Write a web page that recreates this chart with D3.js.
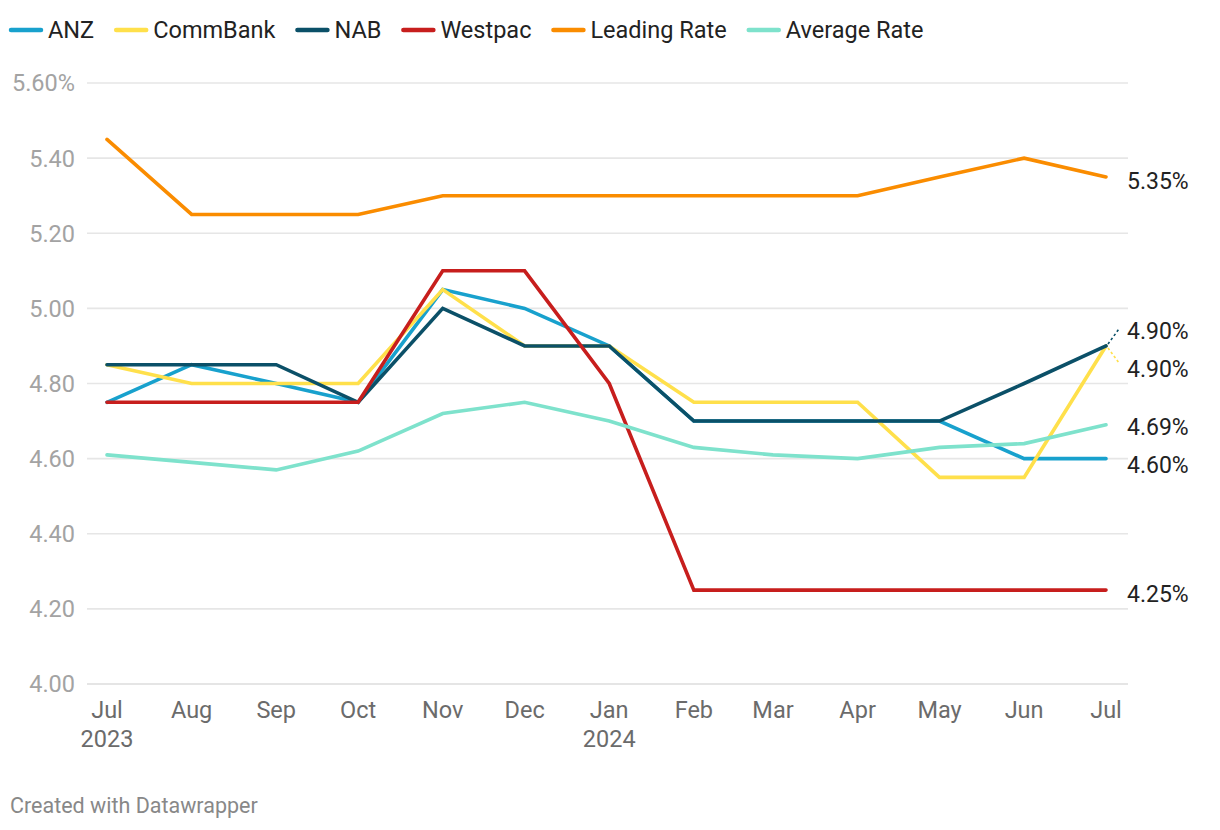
<!DOCTYPE html>
<html>
<head>
<meta charset="utf-8">
<script src="https://cdn.jsdelivr.net/npm/d3@7"></script>
<style>
  html, body { margin: 0; padding: 0; background: #fff; }
  svg { display: block; font-family: Roboto, "Noto Sans", sans-serif; }
</style>
</head>
<body>
<svg id="chart" width="1220" height="830"></svg>
<script>
// ---- Data ----
const months = ["2023-07","2023-08","2023-09","2023-10","2023-11","2023-12","2024-01","2024-02","2024-03","2024-04","2024-05","2024-06","2024-07"];
const seriesNames = ["ANZ","CommBank","NAB","Westpac","Leading Rate","Average Rate"];
const anz      = [4.75,4.85,4.80,4.75,5.05,5.00,4.90,4.70,4.70,4.70,4.70,4.60,4.60];
const commbank = [4.85,4.80,4.80,4.80,5.05,4.90,4.90,4.75,4.75,4.75,4.55,4.55,4.90];
const nab      = [4.85,4.85,4.85,4.75,5.00,4.90,4.90,4.70,4.70,4.70,4.70,4.80,4.90];
const westpac  = [4.75,4.75,4.75,4.75,5.10,5.10,4.80,4.25,4.25,4.25,4.25,4.25,4.25];
const leading  = [5.45,5.25,5.25,5.25,5.30,5.30,5.30,5.30,5.30,5.30,5.35,5.40,5.35];
const average  = [4.61,4.59,4.57,4.62,4.72,4.75,4.70,4.63,4.61,4.60,4.63,4.64,4.69];
const yTicks = [4.00,4.20,4.40,4.60,4.80,5.00,5.20,5.40,5.60];
const colors = ["#18a1cd","#ffe04b","#0b5068","#c71e1d","#fa8c00","#7ee2cc"];

const values = [anz, commbank, nab, westpac, leading, average];
const parse = d3.timeParse("%Y-%m");
const dates = months.map(parse);

// ---- Layout ----
const svg = d3.select("#chart");
const x = d3.scaleTime().domain([dates[0], dates[dates.length-1]]).range([107, 1106]);
const y = d3.scaleLinear().domain([4.0, 5.6]).range([684, 83]);
const gridX0 = 87, gridX1 = 1128;
const fontSize = 23.5;

// Grid + y labels
const gy = svg.append("g");
gy.selectAll("line").data(yTicks).join("line")
  .attr("x1", gridX0).attr("x2", gridX1)
  .attr("y1", d => y(d)).attr("y2", d => y(d))
  .attr("stroke", d => d === 4.0 ? "#dcdcdc" : "#e6e6e6")
  .attr("stroke-width", 1.6);
gy.selectAll("text").data(yTicks).join("text")
  .attr("x", 75).attr("y", d => y(d))
  .attr("dy", "0.36em")
  .attr("text-anchor", "end")
  .attr("fill", "#a3a3a3")
  .attr("font-size", fontSize)
  .text(d => d3.format(".2f")(d) + (d === 5.6 ? "%" : ""));

// X axis labels
const gx = svg.append("g");
const mFmt = d3.timeFormat("%b");
gx.selectAll("text.m").data(dates).join("text")
  .attr("class", "m")
  .attr("x", d => x(d)).attr("y", 718)
  .attr("text-anchor", "middle")
  .attr("fill", "#6b6b6b")
  .attr("font-size", fontSize)
  .text(d => mFmt(d));
gx.selectAll("text.yr").data(dates.filter((d, i) => i === 0 || d.getMonth() === 0)).join("text")
  .attr("class", "yr")
  .attr("x", d => x(d)).attr("y", 747)
  .attr("text-anchor", "middle")
  .attr("fill", "#6b6b6b")
  .attr("font-size", fontSize)
  .text(d => d3.timeFormat("%Y")(d));

// Lines
const line = d3.line().x((d, i) => x(dates[i])).y(d => y(d));
const gl = svg.append("g");
values.forEach((vals, si) => {
  gl.append("path")
    .attr("d", line(vals))
    .attr("fill", "none")
    .attr("stroke", colors[si])
    .attr("stroke-width", 3.6)
    .attr("stroke-linejoin", "miter")
    .attr("stroke-linecap", "round");
});

// End labels with simple collision avoidance
const last = dates.length - 1;
const xEnd = x(dates[last]);
let labels = values.map((vals, si) => ({ si, v: vals[last], y0: y(vals[last]) + 4 }));
labels.forEach(d => d.y = d.y0);
labels.sort((a, b) => a.y0 - b.y0 || b.si - a.si);
const minGap = 38;
for (let iter = 0; iter < 200; iter++) {
  let moved = false;
  for (let i = 0; i < labels.length - 1; i++) {
    const a = labels[i], b = labels[i+1];
    const gap = b.y - a.y;
    if (gap < minGap - 0.01) {
      const shift = (minGap - gap) / 2;
      a.y -= shift; b.y += shift; moved = true;
    }
  }
  if (!moved) break;
}
const glab = svg.append("g");
labels.forEach(d => {
  const ey = y(d.v);
  if (Math.abs(d.y - d.y0) > 8) {
    const dir = Math.sign(d.y - d.y0);
    glab.append("line")
      .attr("x1", xEnd + 2).attr("y1", ey + dir * 2)
      .attr("x2", xEnd + 13).attr("y2", ey + dir * 17)
      .attr("stroke", colors[d.si])
      .attr("stroke-width", 1.6)
      .attr("stroke-dasharray", "2.5,2.5");
  }
  glab.append("text")
    .attr("x", 1127).attr("y", d.y)
    .attr("dy", "0.36em")
    .attr("fill", "#222")
    .attr("font-size", 23)
    .text(d3.format(".2f")(d.v) + "%");
});

// Legend
const gleg = svg.append("g");
let lx = 11;
seriesNames.forEach((name, si) => {
  gleg.append("line")
    .attr("x1", lx).attr("x2", lx + 30)
    .attr("y1", 30).attr("y2", 30)
    .attr("stroke", colors[si])
    .attr("stroke-width", 4.5)
    .attr("stroke-linecap", "round");
  const t = gleg.append("text")
    .attr("x", lx + 37).attr("y", 38)
    .attr("fill", "#222")
    .attr("font-size", fontSize)
    .text(name);
  lx = lx + 37 + t.node().getComputedTextLength() + 22;
});

// Footer
svg.append("text")
  .attr("x", 10).attr("y", 813)
  .attr("fill", "#888")
  .attr("font-size", 21.5)
  .text("Created with Datawrapper");
</script>
</body>
</html>
